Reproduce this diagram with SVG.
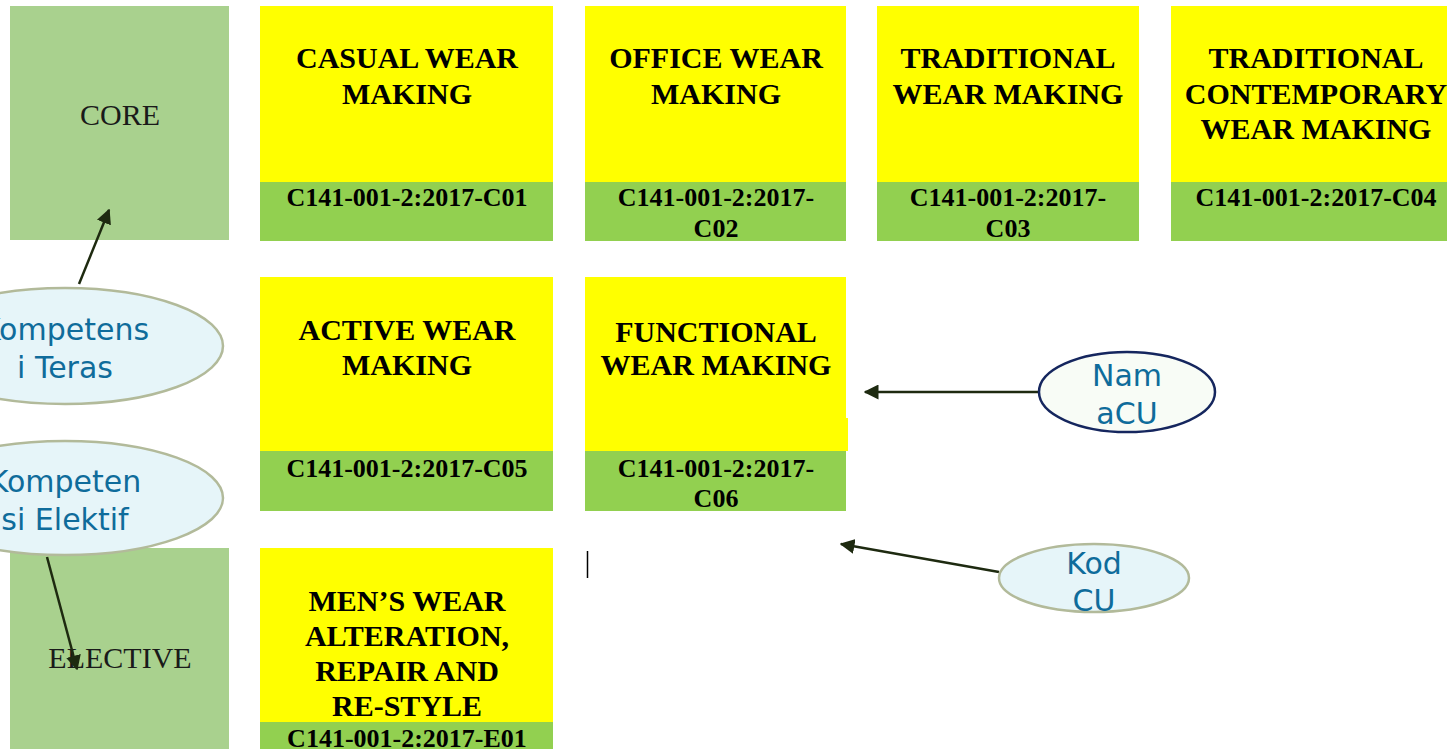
<svg xmlns="http://www.w3.org/2000/svg" width="1447" height="749" viewBox="0 0 1447 749">
<defs>
<style>
.cat{fill:#A9D18E}
.cattxt{font-family:"Liberation Serif",serif;font-size:30px;fill:#1a1a1a;text-anchor:middle}
.y{fill:#FFFF00}
.g{fill:#92D050}
.t{font-family:"Liberation Serif",serif;font-weight:bold;font-size:30px;fill:#000;text-anchor:middle}
.c{font-family:"Liberation Serif",serif;font-weight:bold;font-size:26px;fill:#000;text-anchor:middle}
.ov{fill:#E6F5F9;stroke:#B2BA9A;stroke-width:2.5}
.ov2{fill:#F8FCF6;stroke:#15265E;stroke-width:2.5}
.ot{font-family:"DejaVu Sans",Verdana,sans-serif;font-size:30px;fill:#0F6C9B;text-anchor:middle}
.con{stroke:#1E2A10;stroke-width:2.5;fill:none;marker-end:url(#ah)}
</style>
<marker id="ah" viewBox="0 0 10 10" refX="9" refY="5" markerWidth="6" markerHeight="6" orient="auto" markerUnits="strokeWidth">
<path d="M0,0 L10,5 L0,10 Z" fill="#1E2A10"/>
</marker>
</defs>
<rect width="1447" height="749" fill="#fff"/>

<g id="core">
<rect class="cat" x="10" y="6" width="219" height="234"/>
<text class="cattxt" x="120" y="125">CORE</text>
</g>
<g id="elective">
<rect class="cat" x="10" y="548" width="219" height="201"/>
<text class="cattxt" x="120" y="668">ELECTIVE</text>
</g>

<g id="c01">
<rect class="y" x="260" y="6" width="293" height="176"/>
<rect class="g" x="260" y="182" width="293" height="59"/>
<text class="t" x="407" y="68">CASUAL WEAR</text>
<text class="t" x="407" y="104">MAKING</text>
<text class="c" x="407" y="206">C141-001-2:2017-C01</text>
</g>
<g id="c02">
<rect class="y" x="585" y="6" width="261" height="176"/>
<rect class="g" x="585" y="182" width="261" height="59"/>
<text class="t" x="716" y="68">OFFICE WEAR</text>
<text class="t" x="716" y="104">MAKING</text>
<text class="c" x="716" y="206">C141-001-2:2017-</text>
<text class="c" x="716" y="237">C02</text>
</g>
<g id="c03">
<rect class="y" x="877" y="6" width="262" height="176"/>
<rect class="g" x="877" y="182" width="262" height="59"/>
<text class="t" x="1008" y="68">TRADITIONAL</text>
<text class="t" x="1008" y="104">WEAR MAKING</text>
<text class="c" x="1008" y="206">C141-001-2:2017-</text>
<text class="c" x="1008" y="237">C03</text>
</g>
<g id="c04">
<rect class="y" x="1171" y="6" width="276" height="176"/>
<rect class="g" x="1171" y="182" width="276" height="59"/>
<text class="t" x="1316" y="68">TRADITIONAL</text>
<text class="t" x="1316" y="104">CONTEMPORARY</text>
<text class="t" x="1316" y="139">WEAR MAKING</text>
<text class="c" x="1316" y="206">C141-001-2:2017-C04</text>
</g>
<g id="c05">
<rect class="y" x="260" y="277" width="293" height="174"/>
<rect class="g" x="260" y="451" width="293" height="60"/>
<text class="t" x="407" y="340">ACTIVE WEAR</text>
<text class="t" x="407" y="375">MAKING</text>
<text class="c" x="407" y="477">C141-001-2:2017-C05</text>
</g>
<g id="c06">
<rect class="y" x="585" y="277" width="261" height="174"/>
<rect class="y" x="846" y="418" width="2" height="33"/>
<rect class="g" x="585" y="451" width="261" height="60"/>
<text class="t" x="716" y="342">FUNCTIONAL</text>
<text class="t" x="716" y="375">WEAR MAKING</text>
<text class="c" x="716" y="477">C141-001-2:2017-</text>
<text class="c" x="716" y="507">C06</text>
</g>
<g id="e01">
<rect class="y" x="260" y="548" width="293" height="174"/>
<rect class="g" x="260" y="722" width="293" height="27"/>
<text class="t" x="407" y="611">MEN’S WEAR</text>
<text class="t" x="407" y="646">ALTERATION,</text>
<text class="t" x="407" y="681">REPAIR AND</text>
<text class="t" x="407" y="716">RE-STYLE</text>
<text class="c" x="407" y="747">C141-001-2:2017-E01</text>
</g>

<line x1="587.5" y1="551" x2="587.5" y2="578" stroke="#000" stroke-width="1.5"/>

<g id="connectors">
<line class="con" x1="79" y1="284" x2="109" y2="210"/>
<line class="con" x1="47" y1="557" x2="77" y2="669"/>
<line class="con" x1="1039" y1="392" x2="865" y2="392"/>
<line class="con" x1="999" y1="572" x2="841" y2="544"/>
</g>

<g id="kompetensi-teras">
<ellipse class="ov" cx="65" cy="346" rx="158" ry="58"/>
<text class="ot" x="65" y="340">Kompetens</text>
<text class="ot" x="65" y="378">i Teras</text>
</g>
<g id="kompetensi-elektif">
<ellipse class="ov" cx="65" cy="498" rx="158" ry="57"/>
<text class="ot" x="65" y="492">Kompeten</text>
<text class="ot" x="65" y="530">si Elektif</text>
</g>
<g id="nama-cu">
<ellipse class="ov2" cx="1127" cy="392" rx="88" ry="40"/>
<text class="ot" x="1127" y="386">Nam</text>
<text class="ot" x="1127" y="424">aCU</text>
</g>
<g id="kod-cu">
<ellipse class="ov" cx="1094" cy="578" rx="95" ry="34"/>
<text class="ot" x="1094" y="574">Kod</text>
<text class="ot" x="1094" y="611">CU</text>
</g>
</svg>
